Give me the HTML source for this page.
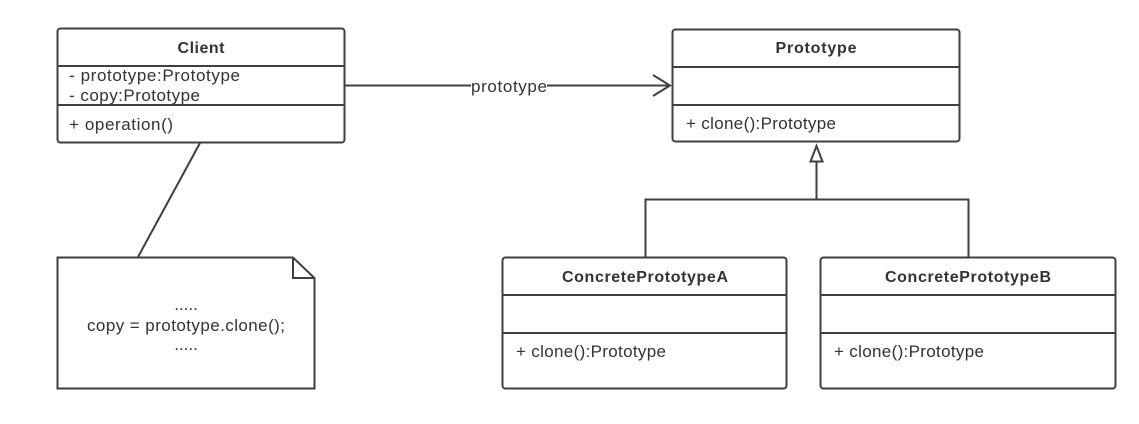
<!DOCTYPE html>
<html><head><style>
html,body{margin:0;padding:0;background:#fff;}
svg{display:block;}
text{font-family:"Liberation Sans",sans-serif;font-size:17px;fill:#333;}
.b{font-weight:bold;font-size:16px;}
</style></head><body>
<svg width="1139" height="424" viewBox="0 0 1139 424" xmlns="http://www.w3.org/2000/svg">
<g fill="none" stroke="#3f3f3f" stroke-width="2">
  <rect x="57.5" y="28.5" width="287" height="114" rx="3"/>
  <line x1="57" y1="66" x2="345" y2="66"/>
  <line x1="57" y1="105" x2="345" y2="105"/>
  <rect x="672.5" y="29.5" width="287" height="112" rx="3"/>
  <line x1="672" y1="67" x2="960" y2="67"/>
  <line x1="672" y1="105" x2="960" y2="105"/>
  <rect x="502.5" y="257.5" width="284" height="131" rx="3"/>
  <line x1="502" y1="295" x2="787" y2="295"/>
  <line x1="502" y1="333" x2="787" y2="333"/>
  <rect x="820.5" y="257.5" width="295" height="131" rx="3"/>
  <line x1="820" y1="295" x2="1116" y2="295"/>
  <line x1="820" y1="333" x2="1116" y2="333"/>
  <path d="M57.5 257.5 H293 L314.5 278 V388.5 H57.5 Z"/>
  <path d="M293 257.5 V278 H314.5"/>
  <line x1="200" y1="143" x2="138" y2="257"/>
  <line x1="345" y1="85.5" x2="670" y2="85.5"/>
  <polyline points="653,75 670,85.5 653,96"/>
  <line x1="816.5" y1="162" x2="816.5" y2="199"/>
  <polygon points="816.5,146 810.5,161.5 822.5,161.5"/>
  <polyline points="645.5,257 645.5,199.5 968.5,199.5 968.5,257"/>
</g>
<rect x="471" y="76" width="76" height="20" fill="#fff"/>
<text x="509" y="92" text-anchor="middle" textLength="76">prototype</text>
<text x="201" y="53" text-anchor="middle" class="b" textLength="47">Client</text>
<text x="69" y="81" textLength="171">- prototype:Prototype</text>
<text x="69" y="101" textLength="131">- copy:Prototype</text>
<text x="69" y="130" textLength="104">+ operation()</text>
<text x="816" y="53" text-anchor="middle" class="b" textLength="81">Prototype</text>
<text x="686" y="129" textLength="150">+ clone():Prototype</text>
<text x="645" y="282" text-anchor="middle" class="b" textLength="166">ConcretePrototypeA</text>
<text x="516" y="357" textLength="150">+ clone():Prototype</text>
<text x="968" y="282" text-anchor="middle" class="b" textLength="166">ConcretePrototypeB</text>
<text x="834" y="357" textLength="150">+ clone():Prototype</text>
<text x="186" y="310" text-anchor="middle">.....</text>
<text x="186" y="331" text-anchor="middle" textLength="198">copy = prototype.clone();</text>
<text x="186" y="350" text-anchor="middle">.....</text>
</svg>
</body></html>
